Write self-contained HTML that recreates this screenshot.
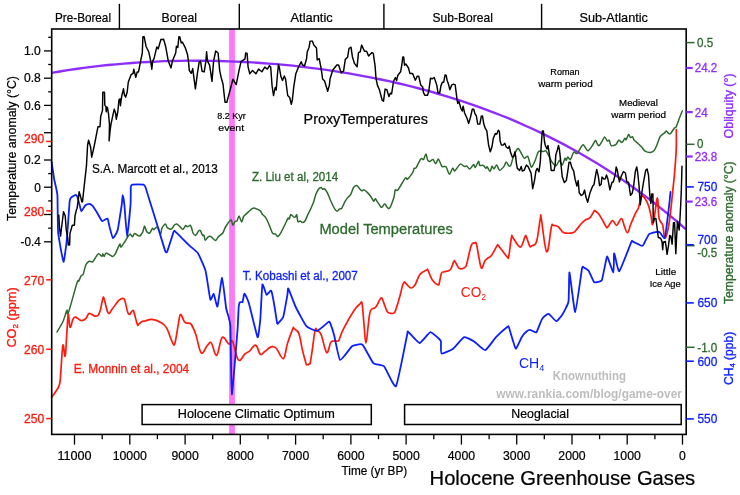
<!DOCTYPE html>
<html lang="en"><head><meta charset="utf-8"><title>Holocene Greenhouse Gases</title>
<style>
html,body{margin:0;padding:0;background:#fff;}
svg{display:block;will-change:transform;}
text{font-family:'Liberation Sans', sans-serif;}
</style></head><body>
<svg width="740" height="495" viewBox="0 0 740 495">
<rect x="0" y="0" width="740" height="495" fill="#fff"/>
<rect x="229.1" y="29.0" width="5.8" height="405.4" fill="#FF78FA"/>
<polyline points="51.7,72.9 59.7,71.5 67.8,70.2 75.8,69.0 83.8,67.9 91.8,66.8 99.9,65.9 107.9,65.0 115.9,64.3 124.0,63.6 132.0,63.0 140.0,62.4 148.0,62.0 156.1,61.6 164.1,61.2 172.1,61.0 180.2,60.8 188.2,60.7 196.2,60.7 204.3,60.7 212.3,60.9 220.3,61.0 228.3,61.3 236.4,61.6 244.4,62.0 252.4,62.4 260.5,63.0 268.5,63.6 276.5,64.2 284.5,64.9 292.6,65.7 300.6,66.6 308.6,67.6 316.7,68.6 324.7,69.7 332.7,70.8 340.7,72.1 348.8,73.4 356.8,74.8 364.8,76.3 372.9,77.8 380.9,79.5 388.9,81.2 397.0,83.0 405.0,84.9 413.0,86.9 421.0,89.0 429.1,91.2 437.1,93.5 445.1,95.8 453.2,98.3 461.2,100.9 469.2,103.6 477.2,106.4 485.3,109.3 493.3,112.3 501.3,115.5 509.4,118.7 517.4,122.1 525.4,125.7 533.4,129.3 541.5,133.1 549.5,137.1 557.5,141.1 565.6,145.4 573.6,149.7 581.6,154.3 589.7,159.0 597.7,163.8 605.7,168.8 613.7,174.0 621.8,179.4 629.8,185.0 637.8,190.7 645.9,196.6 653.9,202.8 661.9,209.1 669.9,215.6 678.0,222.4 686.0,229.4" fill="none" stroke="#8E2CFF" stroke-width="2.35" stroke-linejoin="round"/>
<path d="M57.0,332.0C57.8,330.6 61.6,324.7 62.9,321.8C64.2,318.9 66.2,311.5 66.9,310.3C67.6,309.1 66.9,316.7 68.3,313.0C69.7,309.3 75.7,286.8 77.1,282.6C78.5,278.4 78.2,282.1 78.7,281.2C79.2,280.3 80.5,276.8 81.1,275.8C81.7,274.8 82.7,275.5 83.3,274.0C83.9,272.5 85.1,266.4 85.9,264.7C86.7,263.0 88.3,261.6 89.2,261.2C90.1,260.8 91.6,262.5 92.6,261.8C93.6,261.1 95.9,256.8 96.7,255.7C97.5,254.6 98.0,253.6 98.7,253.7C99.4,253.8 101.6,256.4 102.1,256.4C102.6,256.4 102.5,253.7 102.8,253.7C103.1,253.7 103.6,256.5 104.1,256.4C104.6,256.3 105.1,253.0 106.2,253.0C107.3,253.0 111.0,256.2 112.2,256.4C113.4,256.6 114.0,256.0 115.0,254.4C116.0,252.8 118.9,245.2 119.7,244.2C120.5,243.2 120.2,247.5 121.0,247.0C121.8,246.5 124.6,241.9 125.8,240.2C127.0,238.5 128.9,234.6 129.8,234.1C130.7,233.6 131.9,236.9 132.5,236.8C133.1,236.7 133.7,233.5 134.6,233.4C135.5,233.3 138.2,236.3 139.3,236.1C140.4,235.9 142.0,233.4 142.7,232.1C143.4,230.8 144.0,226.1 144.5,226.0C145.0,225.9 145.9,230.6 146.6,231.5C147.3,232.4 148.9,233.4 149.7,233.0C150.5,232.6 151.9,228.7 152.4,228.3C152.9,227.9 153.3,229.8 153.8,229.7C154.3,229.6 155.9,227.3 156.5,227.2C157.1,227.1 158.0,228.0 158.5,229.0C159.0,230.0 160.1,234.5 160.6,234.4C161.1,234.3 161.3,229.7 161.9,228.3C162.5,226.9 164.6,224.1 165.3,224.0C166.0,223.9 166.5,226.9 167.3,227.6C168.1,228.3 170.5,229.3 171.4,229.0C172.3,228.7 173.4,226.0 174.1,225.3C174.8,224.6 176.0,223.8 176.8,224.0C177.6,224.2 179.4,226.2 180.2,226.9C181.0,227.6 182.2,229.6 182.9,229.4C183.6,229.2 185.0,226.0 185.6,225.6C186.2,225.2 187.0,226.7 187.6,226.7C188.2,226.7 189.8,225.1 190.3,225.3C190.8,225.5 191.3,227.3 191.7,228.3C192.1,229.3 192.5,232.1 193.0,233.0C193.5,233.9 195.0,235.6 195.7,235.3C196.4,235.0 197.9,231.6 198.5,231.0C199.1,230.4 200.0,230.1 200.5,230.7C201.0,231.3 202.0,234.7 202.5,235.3C203.0,235.9 203.5,234.4 203.9,235.1C204.3,235.8 204.7,239.9 205.2,240.2C205.7,240.5 207.2,237.6 207.9,237.1C208.6,236.6 209.6,235.9 210.6,236.4C211.6,236.9 214.3,240.5 215.4,240.5C216.5,240.5 217.7,237.4 218.7,236.4C219.7,235.4 221.9,234.3 222.8,233.0C223.7,231.7 224.5,228.7 225.5,227.0C226.5,225.3 229.5,221.0 230.3,220.2C231.1,219.4 231.2,220.2 231.6,220.9C232.0,221.6 232.5,225.2 233.0,225.3C233.5,225.4 234.5,222.1 235.0,221.5C235.5,220.9 236.5,221.6 237.0,220.9C237.5,220.2 238.4,216.0 239.0,216.1C239.6,216.2 241.1,221.9 241.7,222.0C242.3,222.1 242.8,217.7 243.6,216.5C244.4,215.3 246.3,214.0 247.4,212.9C248.5,211.8 251.2,209.2 252.2,208.6C253.2,208.0 253.8,207.9 254.9,208.2C256.0,208.5 259.3,210.1 260.3,210.9C261.3,211.7 261.6,213.3 262.3,214.2C263.0,215.1 264.9,216.4 265.7,217.6C266.5,218.8 267.5,220.9 268.4,223.0C269.3,225.1 271.6,231.7 272.5,233.2C273.4,234.7 274.5,233.4 275.2,233.9C275.9,234.4 277.2,236.7 277.9,236.6C278.6,236.5 279.7,234.7 280.6,233.2C281.5,231.7 283.7,227.1 284.7,225.1C285.7,223.1 287.4,219.1 288.0,218.3C288.6,217.5 289.0,219.5 289.4,219.0C289.8,218.5 290.2,214.8 290.7,214.5C291.2,214.2 292.9,216.6 293.5,216.9C294.1,217.2 295.1,217.2 295.5,216.9C295.9,216.6 296.5,214.3 296.8,214.9C297.1,215.5 297.4,220.9 297.9,221.7C298.4,222.5 299.6,220.9 300.2,221.0C300.8,221.1 301.6,222.6 302.2,222.6C302.8,222.6 304.3,222.0 305.0,221.0C305.7,220.0 306.9,216.6 307.7,214.9C308.5,213.2 310.2,210.0 311.0,208.2C311.8,206.4 313.2,203.2 313.8,201.4C314.4,199.6 315.2,196.2 315.8,194.6C316.4,193.0 317.8,190.2 318.5,189.2C319.2,188.2 320.7,187.4 321.2,187.4C321.7,187.4 322.0,189.0 322.5,189.2C323.0,189.4 324.0,188.4 324.6,188.9C325.2,189.4 326.5,191.0 327.3,192.6C328.1,194.2 329.7,198.5 330.7,200.7C331.7,202.9 333.8,207.4 334.7,208.8C335.6,210.2 336.5,211.2 337.2,211.2C337.9,211.2 339.1,209.3 339.7,208.9C340.3,208.5 341.1,209.2 341.8,208.2C342.5,207.2 344.3,202.8 345.1,201.4C345.9,200.0 347.2,198.3 347.9,197.4C348.6,196.5 349.9,196.0 350.6,194.7C351.3,193.4 352.7,189.1 353.3,187.9C353.9,186.7 354.8,186.2 355.3,185.9C355.8,185.6 356.5,185.3 357.3,185.9C358.1,186.5 360.5,190.1 361.4,190.6C362.3,191.1 363.3,189.6 364.1,189.9C364.9,190.2 366.6,191.7 367.5,192.6C368.4,193.5 370.1,195.6 370.9,196.7C371.7,197.8 373.0,200.8 373.6,201.1C374.2,201.4 374.8,198.6 375.3,198.7C375.8,198.8 376.8,201.0 377.6,202.1C378.4,203.2 380.4,206.5 381.0,207.1C381.6,207.7 381.9,207.2 382.4,206.8C382.9,206.4 383.9,203.9 384.8,204.1C385.7,204.3 387.9,209.4 389.1,208.5C390.3,207.6 393.1,199.9 393.9,197.4C394.7,194.9 394.7,190.9 395.2,189.9C395.7,188.9 396.5,191.5 397.9,189.9C399.3,188.3 404.1,179.5 405.4,178.1C406.7,176.7 406.4,179.9 407.4,179.1C408.4,178.3 411.9,173.7 412.8,172.3C413.7,170.9 413.7,168.9 414.2,168.3C414.7,167.7 415.3,168.9 416.2,167.6C417.1,166.3 419.9,159.9 420.9,158.8C421.9,157.7 422.9,160.1 423.6,159.5C424.3,158.9 425.4,154.0 425.9,154.1C426.4,154.2 427.2,159.1 427.7,160.1C428.2,161.1 429.0,161.6 429.7,161.5C430.4,161.4 432.3,159.2 433.1,159.5C433.9,159.8 434.9,163.8 435.6,163.7C436.3,163.6 437.7,158.7 438.5,159.1C439.3,159.5 440.9,165.4 441.9,166.4C442.9,167.4 445.0,165.8 446.0,166.8C447.0,167.8 448.5,174.0 449.4,174.2C450.3,174.4 452.0,168.6 452.7,168.2C453.4,167.8 453.8,171.4 454.8,170.9C455.8,170.4 458.9,164.7 460.2,164.1C461.5,163.5 463.3,166.1 464.2,166.4C465.1,166.7 466.2,165.7 466.9,166.1C467.6,166.5 468.8,169.3 469.7,169.1C470.6,168.9 473.0,164.7 473.7,164.5C474.4,164.3 474.7,167.9 475.3,167.5C475.9,167.1 477.9,161.7 478.5,161.4C479.1,161.1 479.2,164.9 479.8,165.4C480.4,165.9 482.4,165.0 483.2,165.4C484.0,165.8 485.4,168.0 485.9,168.2C486.4,168.4 486.7,166.4 487.2,166.8C487.7,167.2 489.4,171.6 490.0,171.5C490.6,171.4 491.5,166.8 492.0,166.4C492.5,166.0 493.4,169.0 494.0,168.8C494.6,168.6 496.0,164.8 496.7,165.0C497.4,165.2 498.7,170.1 499.6,170.3C500.5,170.5 502.9,167.7 503.8,166.6C504.7,165.5 505.5,162.1 506.2,162.0C506.9,161.9 508.3,165.6 508.9,166.0C509.5,166.4 510.3,166.2 510.9,165.0C511.5,163.8 512.4,159.1 513.3,157.0C514.2,154.9 516.5,150.0 517.3,149.0C518.1,148.0 518.4,148.5 519.0,149.2C519.6,149.9 521.3,153.4 522.0,154.6C522.7,155.8 523.6,158.1 524.4,158.3C525.2,158.5 527.0,155.6 527.7,156.2C528.4,156.8 529.3,161.5 529.8,163.0C530.3,164.5 531.1,167.5 531.8,167.1C532.5,166.7 534.3,162.4 535.2,160.3C536.1,158.2 537.5,152.7 538.6,151.5C539.7,150.3 542.3,151.6 543.3,151.5C544.3,151.4 545.3,150.3 546.0,150.8C546.7,151.3 547.9,154.1 548.7,155.6C549.5,157.1 551.1,161.0 552.1,162.3C553.1,163.6 555.2,166.0 556.2,165.7C557.2,165.4 558.7,160.4 559.5,160.3C560.3,160.2 561.5,165.3 562.2,165.0C562.9,164.7 564.5,158.9 565.0,158.3C565.5,157.7 565.9,160.5 566.3,160.3C566.7,160.1 567.2,157.0 567.7,156.9C568.2,156.8 569.6,160.2 570.4,159.6C571.2,159.0 572.8,153.0 573.7,152.2C574.6,151.4 576.1,154.2 577.1,153.5C578.1,152.8 580.4,148.0 581.2,146.8C582.0,145.6 582.7,144.6 583.2,144.7C583.7,144.8 584.6,146.6 585.2,147.4C585.8,148.2 587.1,151.0 588.0,150.8C588.9,150.6 591.0,147.5 592.0,146.1C593.0,144.7 594.7,140.8 595.4,140.5C596.1,140.2 596.9,143.4 597.4,144.1C597.9,144.8 598.5,146.0 599.1,145.7C599.7,145.4 601.1,142.9 601.8,141.7C602.5,140.5 604.0,137.0 604.7,136.9C605.4,136.8 606.6,140.5 607.2,141.0C607.8,141.5 608.7,139.7 609.2,140.3C609.7,140.9 610.3,145.2 611.2,145.7C612.1,146.2 615.0,145.1 616.0,144.4C617.0,143.7 617.9,140.6 618.7,140.3C619.5,140.0 621.3,142.7 622.1,142.4C622.9,142.1 624.3,138.7 624.8,138.3C625.3,137.9 625.6,140.2 626.1,139.7C626.6,139.2 628.0,134.8 628.6,134.5C629.2,134.2 630.0,137.3 630.5,137.6C631.0,137.9 632.1,136.5 632.6,136.9C633.1,137.3 633.4,139.4 634.2,140.3C635.0,141.2 637.3,142.8 638.3,143.7C639.3,144.6 640.8,146.1 641.7,147.1C642.6,148.1 643.9,150.5 645.1,151.2C646.3,151.9 649.3,152.6 650.5,152.5C651.7,152.4 653.1,151.7 653.9,150.8C654.7,149.9 655.8,147.6 656.6,145.7C657.4,143.8 659.2,138.4 660.0,136.9C660.8,135.4 662.1,134.7 662.7,134.2C663.3,133.7 664.2,133.3 664.7,132.9C665.2,132.5 665.9,130.8 666.4,130.9C666.9,131.0 668.1,133.3 668.7,133.6C669.3,133.9 670.1,133.9 670.8,133.2C671.5,132.5 673.5,129.1 674.2,128.2C674.9,127.3 675.6,128.0 676.2,126.8C676.8,125.6 678.1,121.5 678.9,119.4C679.7,117.3 681.8,112.1 682.3,111.0" fill="none" stroke="#2D692D" stroke-width="1.5" stroke-linejoin="round" stroke-linecap="round"/>
<path d="M51.7,397.3C52.4,396.3 54.0,394.3 55.4,392.0C56.8,389.7 58.5,388.1 59.5,384.5C60.5,380.9 60.2,379.6 60.8,372.4C61.4,365.2 62.1,348.3 62.9,345.3C63.7,342.3 64.5,358.5 65.2,356.1C65.9,353.7 66.3,339.6 66.9,332.0C67.5,324.4 67.7,315.3 68.3,314.4C68.9,313.5 69.1,326.3 70.0,327.2C70.9,328.1 72.0,321.0 73.0,319.1C74.0,317.2 74.2,316.8 75.7,317.1C77.2,317.4 79.2,320.2 81.1,320.5C83.0,320.8 84.4,319.8 85.9,318.5C87.4,317.2 87.6,313.8 89.2,313.4C90.8,313.0 93.1,315.8 94.7,316.1C96.3,316.4 97.0,316.2 98.0,315.3C99.0,314.4 99.2,314.0 100.1,311.0C101.0,308.0 102.1,301.0 102.8,298.8C103.5,296.6 103.1,296.2 104.1,298.8C105.1,301.4 106.7,311.1 108.2,313.0C109.7,314.9 110.3,311.2 112.2,309.0C114.1,306.8 116.6,302.8 118.3,300.9C120.0,299.0 120.7,299.0 121.7,298.6C122.7,298.2 123.1,298.1 123.7,298.6C124.3,299.1 124.2,298.7 125.1,301.5C126.0,304.3 127.1,312.3 128.5,314.0C129.9,315.7 131.5,311.0 132.5,310.7C133.5,310.4 133.0,309.6 133.9,312.1C134.8,314.6 136.4,322.1 137.3,324.3C138.2,326.5 137.7,324.8 138.6,324.3C139.5,323.8 140.8,322.2 142.0,321.6C143.2,321.0 143.2,321.4 145.0,321.0C146.8,320.6 148.8,319.1 151.8,319.4C154.8,319.7 158.5,321.1 161.2,322.7C163.9,324.3 164.7,324.7 166.7,328.2C168.7,331.7 170.6,338.9 172.1,341.7C173.6,344.5 173.7,346.8 174.8,343.7C175.9,340.6 177.2,330.1 178.2,324.8C179.2,319.5 179.4,315.2 180.5,314.6C181.6,314.0 183.0,319.8 184.2,321.4C185.4,323.0 185.7,322.6 186.9,323.1C188.1,323.6 189.4,322.1 191.0,324.1C192.6,326.1 193.8,328.9 195.7,334.2C197.6,339.5 199.1,350.8 201.2,352.9C203.3,355.0 205.3,347.5 207.2,345.7C209.1,343.9 209.6,341.3 211.3,343.0C213.0,344.7 214.7,356.2 216.7,355.2C218.7,354.2 219.9,339.7 222.1,337.6C224.3,335.5 227.0,343.3 228.9,344.0C230.8,344.7 230.8,338.4 232.5,341.3C234.2,344.2 236.1,357.7 238.4,360.0C240.7,362.3 243.0,355.5 245.0,353.9C247.0,352.3 247.6,352.8 249.5,351.2C251.4,349.6 253.6,344.5 255.6,345.1C257.6,345.7 258.7,353.1 260.3,354.3C261.9,355.5 262.7,353.0 264.4,351.8C266.1,350.6 268.3,348.4 269.8,347.5C271.3,346.6 271.3,346.5 272.5,346.7C273.7,346.9 274.5,346.3 276.5,348.5C278.5,350.7 281.3,359.5 283.3,358.6C285.3,357.7 285.7,349.2 287.4,343.7C289.1,338.2 291.6,331.6 292.8,328.8C294.0,326.0 293.0,327.7 294.1,328.6C295.2,329.5 297.4,329.8 298.9,333.6C300.4,337.4 301.0,343.9 302.2,349.1C303.4,354.3 304.8,359.1 305.6,362.0C306.4,364.9 305.9,364.5 306.6,364.8C307.3,365.1 308.9,364.3 309.6,363.8C310.3,363.3 309.9,364.7 310.4,362.0C310.9,359.3 311.5,355.0 312.4,349.1C313.3,343.2 314.2,333.3 315.1,329.9C316.0,326.5 316.0,329.6 317.1,330.5C318.2,331.4 319.5,330.9 321.2,334.9C322.9,338.9 324.9,351.1 326.6,352.5C328.3,353.9 329.5,344.5 330.7,342.4C331.9,340.3 332.2,341.3 333.4,341.0C334.6,340.7 336.4,341.2 337.4,341.0C338.4,340.8 338.1,341.9 339.1,339.8C340.1,337.7 340.4,335.0 343.1,329.7C345.8,324.4 350.8,315.4 353.9,310.7C357.0,306.0 358.5,305.1 360.0,303.9C361.5,302.7 361.3,299.9 362.1,303.9C362.9,307.9 363.4,318.4 364.1,325.6C364.8,332.8 365.1,343.2 365.9,343.2C366.7,343.2 367.4,331.6 368.2,325.6C369.0,319.6 369.1,314.1 370.5,310.7C371.9,307.3 373.9,309.3 375.6,307.3C377.3,305.3 378.6,301.6 379.7,299.9C380.8,298.2 381.0,297.4 381.7,297.9C382.4,298.4 382.7,300.1 383.7,302.6C384.7,305.1 386.0,309.5 387.1,311.4C388.2,313.3 388.6,312.8 389.8,313.1C391.0,313.4 392.8,313.8 393.9,313.1C395.0,312.4 394.8,312.6 395.9,309.4C397.0,306.2 398.8,300.3 400.0,295.8C401.2,291.3 401.9,287.5 402.7,285.0C403.5,282.5 403.8,282.4 404.3,282.0C404.8,281.6 404.1,281.7 405.3,282.8C406.5,283.9 409.3,287.7 411.1,288.0C412.9,288.3 413.5,287.2 415.1,284.7C416.7,282.2 417.8,277.2 419.9,274.5C422.0,271.8 425.2,270.8 426.7,270.0C428.2,269.2 426.9,268.5 428.0,270.4C429.1,272.3 430.8,277.9 432.7,280.6C434.6,283.3 437.0,284.7 438.2,284.9C439.4,285.1 438.9,284.0 439.5,281.9C440.1,279.8 440.6,275.1 441.5,273.2C442.4,271.3 442.6,272.4 444.2,271.8C445.8,271.2 448.6,271.7 450.3,269.8C452.0,267.9 452.8,263.2 453.7,261.7C454.6,260.2 454.2,260.6 455.1,261.7C456.0,262.8 457.4,266.4 458.5,267.7C459.6,269.0 460.1,268.8 461.2,268.8C462.3,268.8 463.5,268.5 464.5,267.7C465.5,266.9 465.4,268.5 466.6,264.4C467.8,260.3 469.8,249.3 471.3,245.4C472.8,241.5 473.8,243.3 474.7,243.0C475.6,242.7 475.7,241.4 476.4,243.8C477.1,246.2 477.8,251.7 478.7,256.2C479.6,260.7 480.4,267.2 481.5,268.1C482.6,269.0 483.7,262.8 484.8,261.0C485.9,259.2 486.3,259.4 487.5,258.3C488.7,257.2 489.9,257.5 491.6,255.2C493.3,252.9 495.8,247.4 497.0,245.7C498.2,244.0 497.5,244.9 498.4,245.7C499.3,246.5 500.4,248.2 502.0,250.3C503.6,252.4 506.2,256.2 507.4,257.2C508.6,258.2 508.0,259.6 508.8,255.9C509.6,252.2 510.7,240.6 511.5,237.2C512.3,233.8 511.3,235.8 512.9,237.6C514.5,239.4 518.1,247.3 520.3,247.1C522.5,246.9 523.9,238.6 525.0,236.7C526.1,234.8 525.5,235.2 526.4,236.9C527.3,238.6 528.8,244.6 529.8,246.2C530.8,247.8 530.6,246.5 531.8,245.7C533.0,244.9 534.9,246.6 536.5,241.7C538.1,236.8 539.4,222.9 540.3,218.7C541.2,214.5 540.1,212.6 541.3,218.7C542.5,224.8 544.8,250.3 546.7,251.8C548.6,253.3 550.2,231.6 551.4,226.8C552.6,222.0 552.3,225.4 553.5,225.4C554.7,225.4 556.5,225.6 558.2,226.8C559.9,228.0 561.4,231.0 562.9,232.2C564.4,233.4 564.4,233.1 566.3,233.2C568.2,233.3 571.4,233.1 573.1,232.6C574.8,232.1 574.3,232.1 575.8,230.5C577.3,228.9 579.5,225.6 581.2,223.7C582.9,221.8 583.7,221.1 585.3,220.0C586.9,218.9 588.4,219.3 590.0,217.7C591.6,216.1 593.0,212.4 594.0,211.2C595.0,210.0 594.5,210.4 595.4,211.0C596.3,211.6 597.7,212.6 599.1,214.5C600.5,216.4 601.7,218.9 603.1,221.2C604.5,223.5 605.5,226.4 606.5,227.3C607.5,228.2 607.4,227.2 608.5,226.0C609.6,224.8 611.1,220.7 612.6,220.6C614.1,220.5 615.1,225.7 616.7,225.3C618.3,224.9 620.0,218.5 621.4,218.5C622.8,218.5 623.0,222.7 624.1,225.3C625.2,227.9 626.3,233.0 627.5,232.7C628.7,232.4 629.4,227.5 630.9,223.9C632.4,220.3 634.2,216.0 635.6,213.1C637.0,210.2 637.2,211.2 638.3,208.2C639.4,205.2 640.5,198.4 641.7,196.7C642.9,195.0 643.9,197.1 645.1,198.7C646.3,200.3 647.4,202.1 648.5,205.5C649.6,208.9 650.5,213.5 651.2,217.0C651.9,220.5 651.9,224.8 652.5,224.6C653.1,224.4 653.6,220.7 654.5,215.8C655.4,210.9 656.7,197.6 657.5,198.0C658.3,198.4 658.0,213.0 659.0,218.0C660.0,223.0 661.7,221.7 662.7,225.3C663.7,228.9 663.8,236.3 664.7,237.5C665.6,238.7 666.4,236.1 667.4,232.1C668.4,228.1 669.1,223.4 670.1,215.8C671.1,208.2 671.9,198.9 672.8,190.6C673.7,182.3 674.2,177.7 674.8,170.3C675.4,162.9 675.9,157.5 676.2,150.0C676.5,142.5 676.3,133.3 676.3,129.5" fill="none" stroke="#FF1A0D" stroke-width="1.7" stroke-linejoin="round" stroke-linecap="round"/>
<path d="M51.6,161.9C51.8,163.1 53.7,176.4 54.1,178.8C54.5,181.2 57.1,191.2 57.4,195.1C57.7,199.0 57.7,227.1 58.1,232.0C58.5,236.9 62.9,261.3 63.5,261.8C64.1,262.3 66.5,243.2 66.9,238.8C67.3,234.4 69.3,204.8 69.6,201.8C69.9,198.8 70.6,198.3 71.0,197.8C71.4,197.3 74.6,195.2 75.0,195.1C75.4,195.0 76.8,195.6 77.1,196.2C77.4,196.8 78.8,202.1 79.1,203.2C79.4,204.3 81.0,211.1 81.4,211.3C81.8,211.5 84.6,206.0 85.2,205.5C85.8,205.0 88.7,203.9 89.2,203.9C89.7,203.9 92.0,205.3 92.6,205.9C93.1,206.5 96.0,210.9 96.7,212.0C97.4,213.1 101.3,220.5 102.1,221.0C102.9,221.5 107.0,218.1 107.5,218.5C108.0,218.9 109.1,225.3 109.5,226.7C109.9,228.1 112.3,238.0 112.9,238.2C113.5,238.4 117.1,232.4 117.7,230.0C118.3,227.6 121.3,207.6 121.7,205.0C122.1,202.4 122.5,195.1 122.7,195.1C122.9,195.1 124.1,201.9 124.4,205.0C124.7,208.1 126.7,236.8 127.1,236.8C127.5,236.8 130.2,208.7 130.5,205.0C130.8,201.3 130.7,188.5 130.8,187.0C130.9,185.5 131.6,184.8 132.5,184.6C133.4,184.4 142.5,184.4 143.4,184.6C144.3,184.8 144.9,185.7 145.4,187.0C145.9,188.3 148.9,198.4 150.0,201.8C151.1,205.2 158.8,230.1 159.9,233.7C161.0,237.3 164.8,250.0 165.3,251.3C165.8,252.6 166.7,252.7 167.3,251.3C167.9,249.9 173.1,233.1 173.7,231.7C174.3,230.3 174.2,230.6 175.4,231.7C176.6,232.8 188.3,244.5 190.0,246.1C191.7,247.7 197.0,251.7 198.1,253.5C199.2,255.3 204.7,267.7 205.6,271.1C206.5,274.5 209.7,297.8 210.3,299.5C210.9,301.2 213.2,293.4 213.7,293.9C214.2,294.4 216.9,307.7 217.5,306.5C218.1,305.3 221.5,277.5 222.1,277.6C222.7,277.7 225.6,305.0 226.2,308.5C226.8,312.0 229.9,319.1 230.3,325.4C230.7,331.7 231.3,394.1 231.8,394.4C232.3,394.7 237.0,336.4 237.5,330.0C238.0,323.6 238.5,309.0 238.7,307.0C238.9,305.0 239.5,302.6 239.8,302.2C240.1,301.8 242.2,302.6 242.5,302.0C242.8,301.4 244.0,293.6 244.5,293.7C245.0,293.8 247.8,299.9 248.8,303.1C249.8,306.3 256.8,336.0 257.6,337.2C258.4,338.4 259.9,323.2 260.3,319.4C260.7,315.5 261.9,286.5 262.4,284.7C262.9,282.9 265.9,294.4 266.5,294.8C267.1,295.2 270.6,289.8 271.2,290.7C271.8,291.6 274.2,304.6 274.6,307.0C275.0,309.4 276.9,322.2 277.2,323.4C277.5,324.6 278.2,323.2 278.6,322.7C279.0,322.2 282.7,318.7 283.3,316.7C283.9,314.7 287.0,297.1 287.4,295.0C287.8,292.9 287.7,287.7 288.3,288.5C288.9,289.3 294.2,303.7 295.5,306.5C296.8,309.3 304.7,324.3 306.3,326.1C307.9,327.9 315.5,331.2 317.1,330.9C318.7,330.6 327.7,322.4 328.6,321.8C329.5,321.2 329.6,321.7 330.0,322.7C330.4,323.7 333.4,332.3 334.1,335.0C334.8,337.7 338.8,359.2 340.1,360.0C341.4,360.8 350.7,347.2 352.3,346.1C353.9,345.0 361.0,343.5 362.5,344.7C364.0,345.9 371.7,361.5 373.3,363.1C374.9,364.7 382.4,364.7 384.1,366.4C385.8,368.1 394.3,388.5 396.0,386.2C397.7,383.9 406.2,339.0 407.1,335.0C408.0,331.0 407.2,331.1 408.1,331.7C409.0,332.3 417.9,343.0 419.5,343.0C421.1,343.0 428.9,332.4 430.4,332.2C431.9,332.0 439.1,339.0 439.9,339.7C440.7,340.4 440.9,340.7 441.0,341.7C441.1,342.7 440.6,353.0 441.5,353.5C442.4,354.0 451.0,350.3 452.7,349.1C454.4,347.9 462.6,337.7 464.2,337.2C465.8,336.7 472.9,340.7 474.4,341.7C475.9,342.7 483.6,350.5 485.2,350.2C486.8,349.9 494.4,338.9 496.0,337.2C497.6,335.5 506.6,327.5 507.5,326.8C508.4,326.1 508.3,325.6 508.9,327.2C509.5,328.8 514.8,347.8 515.7,348.5C516.6,349.2 521.0,338.1 521.8,336.9C522.6,335.7 525.9,332.0 526.5,331.5C527.1,331.0 529.4,329.9 529.9,329.9C530.4,329.9 532.8,331.1 533.3,331.3C533.8,331.5 535.9,333.1 536.5,332.2C537.1,331.3 541.3,320.2 542.1,318.9C542.9,317.6 546.3,314.7 546.8,314.4C547.3,314.1 548.8,313.9 549.5,314.4C550.2,314.9 555.4,321.2 556.3,321.2C557.2,321.2 561.5,315.8 562.4,314.4C563.3,313.0 568.0,304.6 568.5,301.5C569.0,298.4 569.0,271.6 569.5,272.4C570.0,273.2 574.3,312.4 575.2,312.1C576.1,311.8 581.4,271.7 582.0,268.4C582.6,265.1 583.5,267.5 584.0,267.7C584.5,267.9 588.1,270.1 588.8,271.1C589.5,272.1 593.2,281.3 594.0,282.0C594.8,282.7 599.5,281.5 600.1,281.3C600.7,281.1 601.6,281.2 602.1,279.4C602.6,277.6 606.3,259.0 606.7,257.4C607.1,255.8 607.2,256.3 607.7,257.4C608.2,258.5 612.9,272.6 613.4,272.4C613.9,272.2 613.9,255.5 614.0,254.2C614.1,252.9 614.3,253.5 614.7,254.7C615.1,255.9 618.1,272.1 619.3,271.2C620.5,270.3 630.4,244.1 631.4,241.9C632.4,239.7 632.1,241.3 632.9,241.6C633.7,241.9 641.2,245.7 642.0,245.9C642.8,246.1 643.0,245.5 643.5,244.6C644.0,243.7 648.1,235.0 649.1,234.1C650.1,233.2 656.4,231.9 657.2,231.8C658.0,231.7 659.5,232.2 660.0,232.7C660.5,233.2 664.2,238.7 664.7,238.2C665.2,237.7 666.4,227.7 666.7,225.3C667.0,222.9 668.9,207.4 669.2,205.0C669.5,202.6 670.4,193.0 670.5,192.0" fill="none" stroke="#0A1EFF" stroke-width="1.8" stroke-linejoin="round" stroke-linecap="round"/>
<polyline points="58.8,215.1 59.5,228.0 60.6,236.1 61.5,228.0 63.5,211.8 65.2,215.8 66.2,229.4 67.6,236.8 68.3,244.9 69.6,244.9 70.0,233.4 72.3,225.3 74.4,225.3 75.0,215.8 76.4,210.0 77.1,208.2 78.4,199.1 79.1,191.7 80.4,195.7 81.8,201.8 82.5,201.8 83.8,189.7 86.5,165.3 87.6,145.0 88.6,140.2 90.6,147.0 91.7,157.2 94.2,146.0 98.0,126.7 100.0,126.7 100.7,116.5 102.5,110.4 102.8,92.2 104.5,92.2 104.8,105.0 105.9,107.0 106.2,111.8 106.8,107.0 107.5,107.7 108.5,113.8 109.5,124.7 109.1,140.9 110.2,130.0 110.9,124.7 112.9,115.2 114.3,109.1 115.6,113.2 116.3,119.2 117.7,112.5 119.0,99.6 120.1,98.9 120.4,105.7 121.7,96.2 123.5,88.8 124.4,94.9 125.6,97.2 127.2,92.0 128.3,82.0 131.1,74.7 133.1,73.3 133.8,69.2 135.8,77.4 137.2,71.9 138.5,71.9 140.6,61.1 142.3,53.0 142.9,36.8 144.2,36.8 146.0,46.2 148.7,51.7 150.7,61.1 151.8,69.2 152.7,61.1 154.1,58.4 156.8,46.9 158.2,48.9 160.9,39.5 163.6,39.2 165.6,46.2 168.3,61.1 171.0,67.9 172.4,61.1 175.7,53.0 176.4,46.2 177.8,47.6 178.9,36.8 179.8,36.8 181.2,42.9 182.5,42.2 185.2,47.6 187.5,54.4 188.6,62.5 189.3,70.6 191.3,73.3 192.7,68.6 195.4,88.9 197.4,73.3 199.2,61.8 200.5,61.1 202.1,71.3 204.2,71.9 205.9,61.1 206.6,51.7 207.5,61.1 209.6,65.2 212.0,81.4 213.6,61.1 215.7,51.0 218.1,53.0 219.7,70.6 221.3,78.0 223.0,84.0 225.0,102.2 226.8,102.2 230.1,90.1 232.9,79.2 236.2,84.7 238.9,71.1 241.0,61.7 245.0,58.9 245.7,52.9 247.1,53.5 248.1,67.1 249.8,73.8 252.5,70.4 255.9,73.8 258.6,69.1 261.9,71.8 264.7,67.1 267.4,69.1 269.4,65.7 270.7,67.1 272.1,86.0 273.5,95.5 275.2,87.4 276.2,90.1 277.5,73.8 278.5,64.4 279.5,68.4 280.9,76.5 282.5,80.6 284.3,75.9 285.6,79.2 287.7,95.5 289.7,97.5 291.3,104.3 292.4,99.5 293.7,87.4 295.8,73.8 298.5,67.1 301.2,61.7 302.5,65.0 304.6,65.7 306.6,58.5 307.2,51.9 309.1,47.2 310.1,41.1 312.4,41.1 313.8,45.1 316.5,47.9 317.2,60.0 319.2,58.7 321.2,68.8 322.6,79.0 324.6,81.0 327.7,91.2 329.4,85.1 330.0,79.0 332.7,70.2 336.8,65.0 338.6,65.0 341.3,72.9 343.6,70.9 345.3,59.4 347.6,57.3 349.0,48.5 351.0,47.2 352.4,56.7 354.4,63.4 357.1,66.8 358.5,52.6 360.2,51.9 361.6,45.1 364.5,51.2 366.6,51.2 368.6,56.0 372.0,52.6 373.3,53.3 375.1,66.1 376.0,78.3 377.4,85.1 379.4,89.8 382.1,100.0 383.5,101.3 385.1,89.1 386.9,89.8 388.9,96.6 390.3,93.2 391.6,93.9 393.6,81.0 395.4,77.6 396.6,80.5 397.9,75.2 400.6,71.8 401.9,64.5 402.8,57.0 403.7,57.0 404.5,65.3 405.8,63.9 408.5,68.0 409.9,73.4 412.6,73.4 415.3,80.2 417.3,76.1 418.7,76.1 420.7,84.9 422.7,86.9 423.4,92.4 424.8,95.3 427.5,95.3 428.8,91.0 430.5,78.2 432.2,78.8 434.2,77.5 435.6,81.5 436.9,85.6 438.0,93.0 439.7,93.0 441.0,85.6 442.4,82.2 443.7,82.2 445.1,74.8 446.2,75.4 447.1,80.2 448.5,84.2 449.8,89.7 451.8,84.9 453.5,84.2 455.2,84.9 456.2,93.0 457.2,100.5 457.7,103.5 458.9,101.4 460.9,108.5 462.2,111.0 463.1,106.2 464.6,113.0 466.9,118.0 468.7,123.4 470.3,118.0 472.3,109.2 473.7,109.2 475.0,113.9 476.4,116.0 477.7,124.1 479.8,124.1 481.4,116.0 482.5,116.0 483.8,124.1 485.2,128.2 486.8,130.9 488.6,145.1 490.3,151.8 491.9,147.1 493.3,138.3 495.3,133.6 496.7,134.2 498.3,130.2 499.4,131.5 500.1,141.0 501.4,145.1 503.2,145.0 504.8,143.2 506.2,147.0 508.2,148.3 509.3,146.2 510.5,152.3 512.3,157.0 513.9,156.4 514.8,152.0 515.7,156.5 516.2,162.2 517.3,168.4 519.6,170.4 521.2,166.4 522.3,171.1 524.1,170.4 526.4,165.0 528.4,167.1 531.1,173.2 532.7,188.7 534.5,180.6 535.9,171.1 537.2,168.4 539.0,171.8 540.3,161.7 541.1,147.5 542.3,131.0 543.4,131.0 544.5,141.5 545.3,145.4 547.0,149.0 548.0,145.5 549.2,153.4 550.2,161.0 551.2,170.4 554.1,170.4 555.2,164.4 555.8,154.9 557.5,149.5 558.5,145.4 559.5,150.1 560.6,160.3 562.2,176.5 564.3,182.6 566.3,180.6 567.7,171.8 569.0,162.3 570.4,162.3 571.7,167.1 573.7,171.1 575.1,179.2 576.9,186.0 578.2,180.6 579.2,192.8 581.2,195.5 583.2,194.1 584.6,190.1 585.9,196.8 587.7,202.2 590.0,192.8 592.7,186.0 594.0,184.7 595.3,176.8 596.7,169.4 598.3,176.2 599.6,185.6 601.1,184.5 602.0,177.1 603.8,179.1 605.1,179.1 606.5,175.0 607.9,179.1 609.9,189.9 611.9,182.5 613.3,181.8 615.3,174.4 616.2,166.9 617.3,170.3 619.4,181.8 621.4,175.7 623.4,171.7 625.4,173.0 626.8,181.8 628.6,182.5 630.5,195.3 632.2,193.3 633.6,186.5 635.3,171.7 636.7,166.9 637.6,171.7 639.0,185.2 640.3,204.8 641.7,193.3 643.7,181.1 645.7,170.3 647.1,168.9 648.5,175.0 649.8,194.7 650.8,203.5 651.8,194.0 652.9,194.0 653.3,222.6 654.5,218.5 655.9,218.5 658.3,237.5 660.6,238.2 662.0,241.5 662.7,249.7 663.3,242.2 665.4,241.5 667.1,254.4 668.7,244.2 669.7,235.4 670.8,236.1 672.1,244.2 673.5,222.6 674.6,222.6 675.8,253.7 676.6,237.5 677.5,221.2 679.2,230.0 680.0,218.5 680.7,205.0 681.3,190.6 682.0,166.2" fill="none" stroke="#000" stroke-width="1.45" stroke-linejoin="round" stroke-linecap="round"/>
<rect x="142.1" y="404.6" width="229.2" height="19.9" fill="#fff" stroke="#000" stroke-width="1.5"/>
<rect x="404.6" y="404.6" width="276.6" height="19.9" fill="#fff" stroke="#000" stroke-width="1.5"/>
<rect x="51.7" y="29.0" width="634.5" height="405.4" fill="none" stroke="#000" stroke-width="1.6"/>
<line x1="119.4" y1="3.8" x2="119.4" y2="29.0" stroke="#000" stroke-width="1.4"/>
<line x1="239.3" y1="3.8" x2="239.3" y2="29.0" stroke="#000" stroke-width="1.4"/>
<line x1="383.9" y1="3.8" x2="383.9" y2="29.0" stroke="#000" stroke-width="1.4"/>
<line x1="541.6" y1="3.8" x2="541.6" y2="29.0" stroke="#000" stroke-width="1.4"/>
<line x1="682.5" y1="434.4" x2="682.5" y2="444.59999999999997" stroke="#000" stroke-width="1.3"/>
<line x1="654.9" y1="434.4" x2="654.9" y2="439.2" stroke="#000" stroke-width="1.3"/>
<line x1="627.2" y1="434.4" x2="627.2" y2="444.59999999999997" stroke="#000" stroke-width="1.3"/>
<line x1="599.6" y1="434.4" x2="599.6" y2="439.2" stroke="#000" stroke-width="1.3"/>
<line x1="572.0" y1="434.4" x2="572.0" y2="444.59999999999997" stroke="#000" stroke-width="1.3"/>
<line x1="544.3" y1="434.4" x2="544.3" y2="439.2" stroke="#000" stroke-width="1.3"/>
<line x1="516.7" y1="434.4" x2="516.7" y2="444.59999999999997" stroke="#000" stroke-width="1.3"/>
<line x1="489.1" y1="434.4" x2="489.1" y2="439.2" stroke="#000" stroke-width="1.3"/>
<line x1="461.4" y1="434.4" x2="461.4" y2="444.59999999999997" stroke="#000" stroke-width="1.3"/>
<line x1="433.8" y1="434.4" x2="433.8" y2="439.2" stroke="#000" stroke-width="1.3"/>
<line x1="406.1" y1="434.4" x2="406.1" y2="444.59999999999997" stroke="#000" stroke-width="1.3"/>
<line x1="378.5" y1="434.4" x2="378.5" y2="439.2" stroke="#000" stroke-width="1.3"/>
<line x1="350.9" y1="434.4" x2="350.9" y2="444.59999999999997" stroke="#000" stroke-width="1.3"/>
<line x1="323.2" y1="434.4" x2="323.2" y2="439.2" stroke="#000" stroke-width="1.3"/>
<line x1="295.6" y1="434.4" x2="295.6" y2="444.59999999999997" stroke="#000" stroke-width="1.3"/>
<line x1="268.0" y1="434.4" x2="268.0" y2="439.2" stroke="#000" stroke-width="1.3"/>
<line x1="240.3" y1="434.4" x2="240.3" y2="444.59999999999997" stroke="#000" stroke-width="1.3"/>
<line x1="212.7" y1="434.4" x2="212.7" y2="439.2" stroke="#000" stroke-width="1.3"/>
<line x1="185.1" y1="434.4" x2="185.1" y2="444.59999999999997" stroke="#000" stroke-width="1.3"/>
<line x1="157.4" y1="434.4" x2="157.4" y2="439.2" stroke="#000" stroke-width="1.3"/>
<line x1="129.8" y1="434.4" x2="129.8" y2="444.59999999999997" stroke="#000" stroke-width="1.3"/>
<line x1="102.2" y1="434.4" x2="102.2" y2="439.2" stroke="#000" stroke-width="1.3"/>
<line x1="74.5" y1="434.4" x2="74.5" y2="444.59999999999997" stroke="#000" stroke-width="1.3"/>
<line x1="48.2" y1="37.3" x2="51.7" y2="37.3" stroke="#000" stroke-width="1.3"/>
<line x1="44.0" y1="50.9" x2="51.7" y2="50.9" stroke="#000" stroke-width="1.3"/>
<line x1="48.2" y1="64.5" x2="51.7" y2="64.5" stroke="#000" stroke-width="1.3"/>
<line x1="44.0" y1="78.2" x2="51.7" y2="78.2" stroke="#000" stroke-width="1.3"/>
<line x1="48.2" y1="91.8" x2="51.7" y2="91.8" stroke="#000" stroke-width="1.3"/>
<line x1="44.0" y1="105.4" x2="51.7" y2="105.4" stroke="#000" stroke-width="1.3"/>
<line x1="48.2" y1="119.1" x2="51.7" y2="119.1" stroke="#000" stroke-width="1.3"/>
<line x1="44.0" y1="132.7" x2="51.7" y2="132.7" stroke="#000" stroke-width="1.3"/>
<line x1="48.2" y1="146.3" x2="51.7" y2="146.3" stroke="#000" stroke-width="1.3"/>
<line x1="44.0" y1="160.0" x2="51.7" y2="160.0" stroke="#000" stroke-width="1.3"/>
<line x1="48.2" y1="173.6" x2="51.7" y2="173.6" stroke="#000" stroke-width="1.3"/>
<line x1="44.0" y1="187.2" x2="51.7" y2="187.2" stroke="#000" stroke-width="1.3"/>
<line x1="48.2" y1="200.9" x2="51.7" y2="200.9" stroke="#000" stroke-width="1.3"/>
<line x1="44.0" y1="214.5" x2="51.7" y2="214.5" stroke="#000" stroke-width="1.3"/>
<line x1="48.2" y1="228.2" x2="51.7" y2="228.2" stroke="#000" stroke-width="1.3"/>
<line x1="44.0" y1="241.8" x2="51.7" y2="241.8" stroke="#000" stroke-width="1.3"/>
<line x1="46.2" y1="141.4" x2="51.7" y2="141.4" stroke="#FF1A0D" stroke-width="1.5"/>
<line x1="46.2" y1="210.9" x2="51.7" y2="210.9" stroke="#FF1A0D" stroke-width="1.5"/>
<line x1="46.2" y1="279.8" x2="51.7" y2="279.8" stroke="#FF1A0D" stroke-width="1.5"/>
<line x1="46.2" y1="349.3" x2="51.7" y2="349.3" stroke="#FF1A0D" stroke-width="1.5"/>
<line x1="46.2" y1="418.6" x2="51.7" y2="418.6" stroke="#FF1A0D" stroke-width="1.5"/>
<line x1="686.2" y1="42.6" x2="694.6" y2="42.6" stroke="#2D692D" stroke-width="1.5"/>
<line x1="686.2" y1="144.3" x2="694.6" y2="144.3" stroke="#2D692D" stroke-width="1.5"/>
<line x1="686.2" y1="245.7" x2="694.6" y2="245.7" stroke="#2D692D" stroke-width="1.5"/>
<line x1="686.2" y1="347.3" x2="694.6" y2="347.3" stroke="#2D692D" stroke-width="1.5"/>
<line x1="686.2" y1="186.9" x2="693.8" y2="186.9" stroke="#0A1EFF" stroke-width="1.6"/>
<line x1="686.2" y1="244.8" x2="693.8" y2="244.8" stroke="#0A1EFF" stroke-width="1.6"/>
<line x1="686.2" y1="302.9" x2="693.8" y2="302.9" stroke="#0A1EFF" stroke-width="1.6"/>
<line x1="686.2" y1="361.2" x2="693.8" y2="361.2" stroke="#0A1EFF" stroke-width="1.6"/>
<line x1="686.2" y1="418.9" x2="693.8" y2="418.9" stroke="#0A1EFF" stroke-width="1.6"/>
<line x1="686.2" y1="68" x2="692.7" y2="68" stroke="#8E2CFF" stroke-width="2.2"/>
<line x1="686.2" y1="112.1" x2="692.7" y2="112.1" stroke="#8E2CFF" stroke-width="2.2"/>
<line x1="686.2" y1="156.5" x2="692.7" y2="156.5" stroke="#8E2CFF" stroke-width="2.2"/>
<line x1="686.2" y1="201.6" x2="692.7" y2="201.6" stroke="#8E2CFF" stroke-width="2.2"/>
<text x="83" y="22.2" font-size="13.2" fill="#000" text-anchor="middle" textLength="56" lengthAdjust="spacingAndGlyphs" stroke="#000" stroke-width="0.22">Pre-Boreal</text>
<text x="179.3" y="22.2" font-size="13.2" fill="#000" text-anchor="middle" textLength="35.4" lengthAdjust="spacingAndGlyphs" stroke="#000" stroke-width="0.22">Boreal</text>
<text x="311.6" y="22.2" font-size="13.2" fill="#000" text-anchor="middle" textLength="42.2" lengthAdjust="spacingAndGlyphs" stroke="#000" stroke-width="0.22">Atlantic</text>
<text x="462.7" y="22.2" font-size="13.2" fill="#000" text-anchor="middle" textLength="60.3" lengthAdjust="spacingAndGlyphs" stroke="#000" stroke-width="0.22">Sub-Boreal</text>
<text x="613.7" y="22.2" font-size="13.2" fill="#000" text-anchor="middle" textLength="68.4" lengthAdjust="spacingAndGlyphs" stroke="#000" stroke-width="0.22">Sub-Atlantic</text>
<text x="682.5" y="460.1" font-size="12.3" fill="#000" text-anchor="middle" textLength="6.8" lengthAdjust="spacingAndGlyphs" stroke="#000" stroke-width="0.22">0</text>
<text x="627.2" y="460.1" font-size="12.3" fill="#000" text-anchor="middle" textLength="27.3" lengthAdjust="spacingAndGlyphs" stroke="#000" stroke-width="0.22">1000</text>
<text x="572.0" y="460.1" font-size="12.3" fill="#000" text-anchor="middle" textLength="27.3" lengthAdjust="spacingAndGlyphs" stroke="#000" stroke-width="0.22">2000</text>
<text x="516.7" y="460.1" font-size="12.3" fill="#000" text-anchor="middle" textLength="27.3" lengthAdjust="spacingAndGlyphs" stroke="#000" stroke-width="0.22">3000</text>
<text x="461.4" y="460.1" font-size="12.3" fill="#000" text-anchor="middle" textLength="27.3" lengthAdjust="spacingAndGlyphs" stroke="#000" stroke-width="0.22">4000</text>
<text x="406.1" y="460.1" font-size="12.3" fill="#000" text-anchor="middle" textLength="27.3" lengthAdjust="spacingAndGlyphs" stroke="#000" stroke-width="0.22">5000</text>
<text x="350.9" y="460.1" font-size="12.3" fill="#000" text-anchor="middle" textLength="27.3" lengthAdjust="spacingAndGlyphs" stroke="#000" stroke-width="0.22">6000</text>
<text x="295.6" y="460.1" font-size="12.3" fill="#000" text-anchor="middle" textLength="27.3" lengthAdjust="spacingAndGlyphs" stroke="#000" stroke-width="0.22">7000</text>
<text x="240.3" y="460.1" font-size="12.3" fill="#000" text-anchor="middle" textLength="27.3" lengthAdjust="spacingAndGlyphs" stroke="#000" stroke-width="0.22">8000</text>
<text x="185.1" y="460.1" font-size="12.3" fill="#000" text-anchor="middle" textLength="27.3" lengthAdjust="spacingAndGlyphs" stroke="#000" stroke-width="0.22">9000</text>
<text x="129.8" y="460.1" font-size="12.3" fill="#000" text-anchor="middle" textLength="34.2" lengthAdjust="spacingAndGlyphs" stroke="#000" stroke-width="0.22">10000</text>
<text x="74.5" y="460.1" font-size="12.3" fill="#000" text-anchor="middle" textLength="34.2" lengthAdjust="spacingAndGlyphs" stroke="#000" stroke-width="0.22">11000</text>
<text x="40.8" y="55.1" font-size="12.2" fill="#000" text-anchor="end" textLength="16.8" lengthAdjust="spacingAndGlyphs" stroke="#000" stroke-width="0.22">1.0</text>
<text x="40.8" y="82.4" font-size="12.2" fill="#000" text-anchor="end" textLength="16.8" lengthAdjust="spacingAndGlyphs" stroke="#000" stroke-width="0.22">0.8</text>
<text x="40.8" y="109.6" font-size="12.2" fill="#000" text-anchor="end" textLength="16.8" lengthAdjust="spacingAndGlyphs" stroke="#000" stroke-width="0.22">0.6</text>
<text x="40.8" y="164.2" font-size="12.2" fill="#000" text-anchor="end" textLength="16.8" lengthAdjust="spacingAndGlyphs" stroke="#000" stroke-width="0.22">0.2</text>
<text x="40.8" y="246.0" font-size="12.2" fill="#000" text-anchor="end" textLength="20.2" lengthAdjust="spacingAndGlyphs" stroke="#000" stroke-width="0.22">-0.4</text>
<text x="40.8" y="191.7" font-size="12.2" fill="#000" text-anchor="end" textLength="6.6" lengthAdjust="spacingAndGlyphs" stroke="#000" stroke-width="0.22">0</text>
<text x="44.2" y="142.7" font-size="12.2" fill="#FF1A0D" text-anchor="end" textLength="20.2" lengthAdjust="spacingAndGlyphs" stroke="#FF1A0D" stroke-width="0.3">290</text>
<text x="44.2" y="216.3" font-size="12.2" fill="#FF1A0D" text-anchor="end" textLength="20.2" lengthAdjust="spacingAndGlyphs" stroke="#FF1A0D" stroke-width="0.3">280</text>
<text x="44.2" y="284.5" font-size="12.2" fill="#FF1A0D" text-anchor="end" textLength="20.2" lengthAdjust="spacingAndGlyphs" stroke="#FF1A0D" stroke-width="0.3">270</text>
<text x="44.2" y="354.0" font-size="12.2" fill="#FF1A0D" text-anchor="end" textLength="20.2" lengthAdjust="spacingAndGlyphs" stroke="#FF1A0D" stroke-width="0.3">260</text>
<text x="44.2" y="423.3" font-size="12.2" fill="#FF1A0D" text-anchor="end" textLength="20.2" lengthAdjust="spacingAndGlyphs" stroke="#FF1A0D" stroke-width="0.3">250</text>
<text x="697" y="47.0" font-size="12.8" fill="#2D692D" textLength="16.2" lengthAdjust="spacingAndGlyphs" stroke="#2D692D" stroke-width="0.3">0.5</text>
<text x="697" y="147.8" font-size="12.8" fill="#2D692D" textLength="6.4" lengthAdjust="spacingAndGlyphs" stroke="#2D692D" stroke-width="0.3">0</text>
<text x="697.3" y="257.2" font-size="12.8" fill="#2D692D" textLength="20" lengthAdjust="spacingAndGlyphs" stroke="#2D692D" stroke-width="0.3">-0.5</text>
<text x="697.3" y="351.7" font-size="12.8" fill="#2D692D" textLength="20" lengthAdjust="spacingAndGlyphs" stroke="#2D692D" stroke-width="0.3">-1.0</text>
<text x="694.7" y="72.4" font-size="12.8" fill="#8E2CFF" textLength="22.6" lengthAdjust="spacingAndGlyphs" stroke="#8E2CFF" stroke-width="0.3">24.2</text>
<text x="694.7" y="116.5" font-size="12.8" fill="#8E2CFF" textLength="13" lengthAdjust="spacingAndGlyphs" stroke="#8E2CFF" stroke-width="0.3">24</text>
<text x="694.7" y="160.9" font-size="12.8" fill="#8E2CFF" textLength="22.6" lengthAdjust="spacingAndGlyphs" stroke="#8E2CFF" stroke-width="0.3">23.8</text>
<text x="694.7" y="206.3" font-size="12.8" fill="#8E2CFF" textLength="22.6" lengthAdjust="spacingAndGlyphs" stroke="#8E2CFF" stroke-width="0.3">23.6</text>
<text x="697.4" y="191.3" font-size="12.8" fill="#0A1EFF" textLength="19.9" lengthAdjust="spacingAndGlyphs" stroke="#0A1EFF" stroke-width="0.3">750</text>
<text x="697.4" y="244.4" font-size="12.8" fill="#0A1EFF" textLength="19.9" lengthAdjust="spacingAndGlyphs" stroke="#0A1EFF" stroke-width="0.3">700</text>
<text x="697.4" y="307.3" font-size="12.8" fill="#0A1EFF" textLength="19.9" lengthAdjust="spacingAndGlyphs" stroke="#0A1EFF" stroke-width="0.3">650</text>
<text x="697.4" y="365.7" font-size="12.8" fill="#0A1EFF" textLength="19.9" lengthAdjust="spacingAndGlyphs" stroke="#0A1EFF" stroke-width="0.3">600</text>
<text x="697.4" y="423.3" font-size="12.8" fill="#0A1EFF" textLength="19.9" lengthAdjust="spacingAndGlyphs" stroke="#0A1EFF" stroke-width="0.3">550</text>
<text transform="translate(16.2,221) rotate(-90)" font-size="12.9" fill="#000" stroke="#000" stroke-width="0.22" textLength="145" lengthAdjust="spacingAndGlyphs">Temperature anomaly (°C)</text>
<text transform="translate(15.7,347.6) rotate(-90)" font-size="12.8" fill="#FF1A0D" stroke="#FF1A0D" stroke-width="0.35" textLength="60.3" lengthAdjust="spacingAndGlyphs">CO<tspan font-size="8" dy="2">2</tspan><tspan dy="-2"> (ppm)</tspan></text>
<text transform="translate(732.8,138.4) rotate(-90)" font-size="12.8" fill="#8E2CFF" stroke="#8E2CFF" stroke-width="0.35" textLength="65" lengthAdjust="spacingAndGlyphs">Obliquity (°)</text>
<text transform="translate(733.2,304) rotate(-90)" font-size="12.8" fill="#2D692D" stroke="#2D692D" stroke-width="0.35" textLength="142.6" lengthAdjust="spacingAndGlyphs">Temperature anomaly (°C)</text>
<text transform="translate(733,385) rotate(-90)" font-size="12.6" fill="#0A1EFF" stroke="#0A1EFF" stroke-width="0.35" textLength="53.2" lengthAdjust="spacingAndGlyphs">CH<tspan font-size="8" dy="2">4</tspan><tspan dy="-2"> (ppb)</tspan></text>
<text x="92" y="172.6" font-size="12" fill="#000" textLength="125.8" lengthAdjust="spacingAndGlyphs" stroke="#000" stroke-width="0.22">S.A. Marcott et al., 2013</text>
<text x="251.9" y="181.2" font-size="12" fill="#2D692D" textLength="86.3" lengthAdjust="spacingAndGlyphs" stroke="#2D692D" stroke-width="0.3">Z. Liu et al, 2014</text>
<text x="73.8" y="372.7" font-size="12" fill="#FF1A0D" textLength="115.4" lengthAdjust="spacingAndGlyphs" stroke="#FF1A0D" stroke-width="0.3">E. Monnin et al., 2004</text>
<text x="242.8" y="279.6" font-size="12" fill="#0A1EFF" textLength="115" lengthAdjust="spacingAndGlyphs" stroke="#0A1EFF" stroke-width="0.3">T. Kobashi et al., 2007</text>
<text x="303.6" y="123.8" font-size="15" fill="#000" textLength="124.4" lengthAdjust="spacingAndGlyphs" stroke="#000" stroke-width="0.22">ProxyTemperatures</text>
<text x="319.4" y="233.7" font-size="15.2" fill="#2D692D" textLength="133.4" lengthAdjust="spacingAndGlyphs" stroke="#2D692D" stroke-width="0.3">Model Temperatures</text>
<text x="460.8" y="296.8" font-size="14.2" fill="#FF1A0D" textLength="25.4" lengthAdjust="spacingAndGlyphs">CO<tspan font-size="9.2" dy="2.8">2</tspan></text>
<text x="518.9" y="368.4" font-size="14.2" fill="#0A1EFF" textLength="25.3" lengthAdjust="spacingAndGlyphs">CH<tspan font-size="9.2" dy="2.8">4</tspan></text>
<text x="231.5" y="119.3" font-size="9.6" fill="#000" text-anchor="middle" textLength="28.4" lengthAdjust="spacingAndGlyphs" stroke="#000" stroke-width="0.22">8.2 Kyr</text>
<text x="231.2" y="131.4" font-size="9.6" fill="#000" text-anchor="middle" textLength="25.8" lengthAdjust="spacingAndGlyphs" stroke="#000" stroke-width="0.22">event</text>
<text x="565" y="75.1" font-size="9.8" fill="#000" text-anchor="middle" textLength="29.3" lengthAdjust="spacingAndGlyphs" stroke="#000" stroke-width="0.22">Roman</text>
<text x="565.4" y="86.6" font-size="9.8" fill="#000" text-anchor="middle" textLength="54.5" lengthAdjust="spacingAndGlyphs" stroke="#000" stroke-width="0.22">warm period</text>
<text x="638.5" y="105.7" font-size="9.8" fill="#000" text-anchor="middle" textLength="38.8" lengthAdjust="spacingAndGlyphs" stroke="#000" stroke-width="0.22">Medieval</text>
<text x="638.6" y="118.2" font-size="9.8" fill="#000" text-anchor="middle" textLength="54.8" lengthAdjust="spacingAndGlyphs" stroke="#000" stroke-width="0.22">warm period</text>
<text x="665.7" y="275.4" font-size="9.8" fill="#000" text-anchor="middle" textLength="21" lengthAdjust="spacingAndGlyphs" stroke="#000" stroke-width="0.22">Little</text>
<text x="665.2" y="287.2" font-size="9.8" fill="#000" text-anchor="middle" textLength="31.1" lengthAdjust="spacingAndGlyphs" stroke="#000" stroke-width="0.22">Ice Age</text>
<text x="256.3" y="418.2" font-size="12.4" fill="#000" text-anchor="middle" textLength="157" lengthAdjust="spacingAndGlyphs" stroke="#000" stroke-width="0.22">Holocene Climatic Optimum</text>
<text x="540.1" y="418.2" font-size="12.4" fill="#000" text-anchor="middle" textLength="57.6" lengthAdjust="spacingAndGlyphs" stroke="#000" stroke-width="0.22">Neoglacial</text>
<text x="552.8" y="379.8" font-size="12.2" fill="#BDBDBD" textLength="73.2" lengthAdjust="spacingAndGlyphs" font-weight="bold">Knownuthing</text>
<text x="496.3" y="398.1" font-size="12.2" fill="#BDBDBD" textLength="185.6" lengthAdjust="spacingAndGlyphs" font-weight="bold">www.rankia.com/blog/game-over</text>
<text x="341.5" y="475.3" font-size="12.6" fill="#000" textLength="65.8" lengthAdjust="spacingAndGlyphs" stroke="#000" stroke-width="0.22">Time (yr BP)</text>
<text x="429.6" y="485.3" font-size="19.9" fill="#000" textLength="265.6" lengthAdjust="spacingAndGlyphs" stroke="#000" stroke-width="0.22">Holocene Greenhouse Gases</text>
</svg></body></html>
